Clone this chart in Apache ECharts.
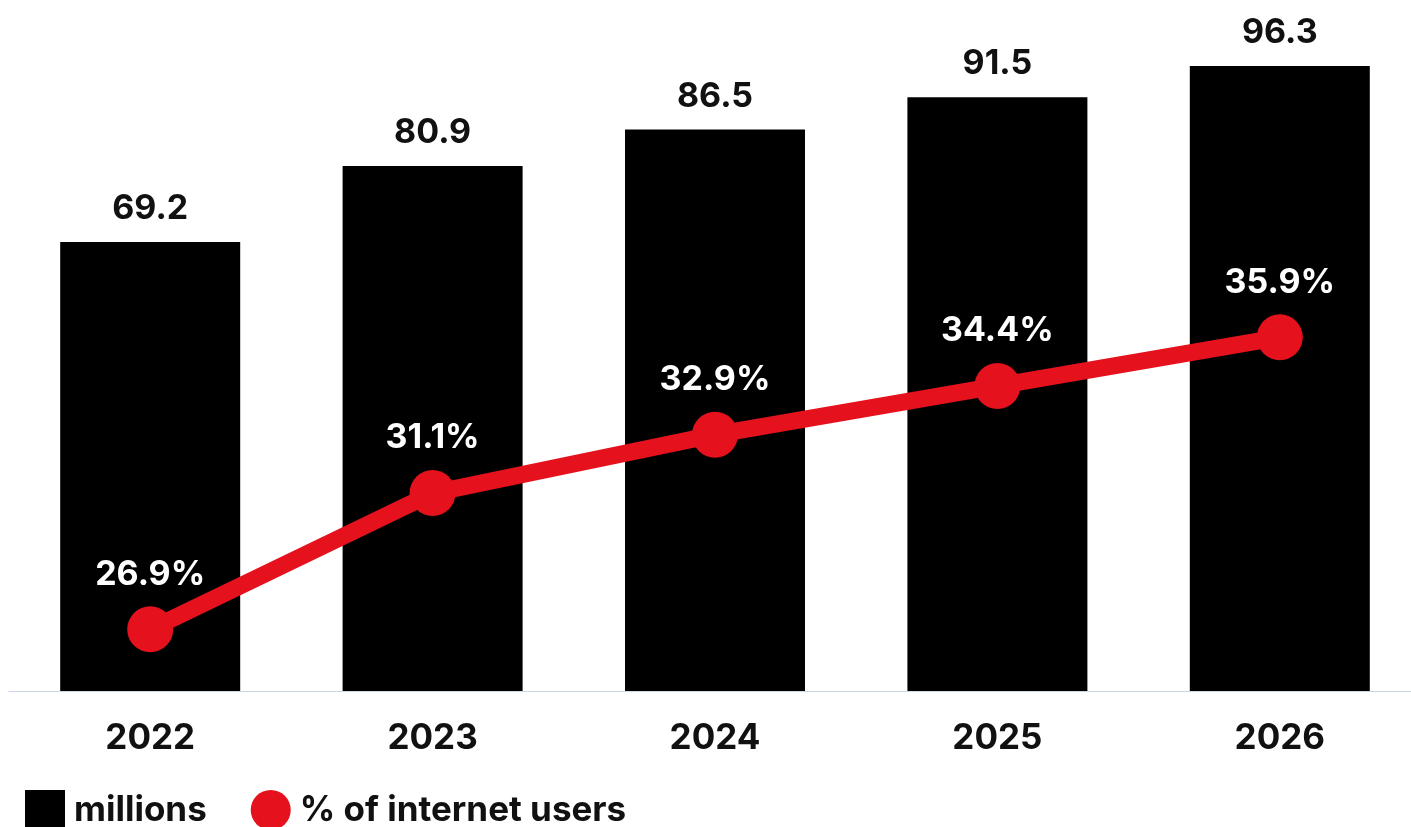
<!DOCTYPE html>
<html><head><meta charset="utf-8">
<script src="https://cdn.jsdelivr.net/npm/echarts@6/dist/echarts.min.js"></script>
<style>html,body{margin:0;padding:0;background:#fff;overflow:hidden}#c{width:1432px;height:827px}</style>
</head><body><div id="c"></div>
<script>
var categories = ['2022','2023','2024','2025','2026'];
var millions = [69.2, 80.9, 86.5, 91.5, 96.3];
var pctUsers = [26.9, 31.1, 32.9, 34.4, 35.9];
var FONT = 'Inter';
var chart = echarts.init(document.getElementById('c'));
chart.setOption({
  animation: false,
  textStyle: {fontFamily: FONT},
  legend: {
    left: 20, top: 785, itemWidth: 40, itemHeight: 40, itemGap: 44,
    textStyle: {fontSize: 35, fontWeight: 'bold', color: '#111', fontFamily: FONT, padding: [0,0,0,4]},
    data: [{name: 'millions', icon: 'rect'}, {name: '% of internet users', icon: 'circle'}]
  },
  grid: {left: 9, width: 1412, top: 42, bottom: 136, containLabel: false},
  xAxis: {
    type: 'category', data: categories,
    axisLine: {show: true, lineStyle: {color: '#ccd6eb', width: 1}},
    axisTick: {show: false},
    axisLabel: {fontSize: 35, fontWeight: 'bold', color: '#111', margin: 30, fontFamily: FONT}
  },
  yAxis: [
    {type: 'value', min: 0, max: 100, show: false, splitLine: {show: false}},
    {type: 'value', min: 25, max: 45, show: false, splitLine: {show: false}}
  ],
  series: [
    {
      name: 'millions', type: 'bar', data: millions, barWidth: 180,
      itemStyle: {color: '#000'},
      label: {show: true, position: 'top', distance: 16, fontSize: 34, fontWeight: 'bold', color: '#111', fontFamily: FONT,
        formatter: function(p){ return p.value.toFixed(1); }}
    },
    {
      name: '% of internet users', type: 'line', yAxisIndex: 1, data: pctUsers,
      symbol: 'circle', symbolSize: 46,
      lineStyle: {color: '#e5121d', width: 17},
      itemStyle: {color: '#e5121d'},
      label: {show: true, position: 'top', distance: 15, fontSize: 34, fontWeight: 'bold', color: '#fff', fontFamily: FONT,
        formatter: function(p){ return p.value.toFixed(1) + '%'; }}
    }
  ]
});
</script></body></html>
